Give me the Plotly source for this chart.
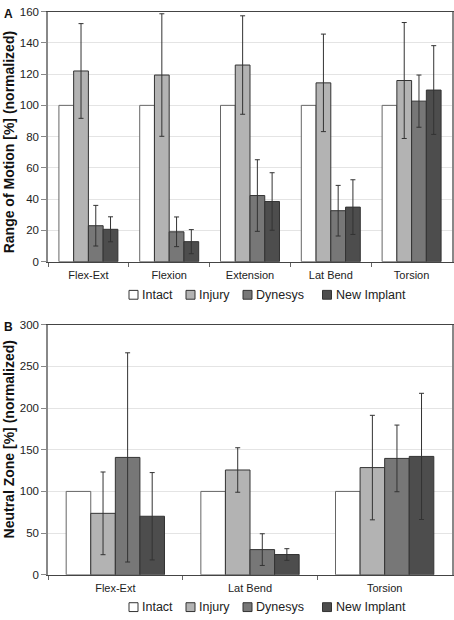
import plotly.graph_objects as go

W, H = 454, 620

series_names = ["Intact", "Injury", "Dynesys", "New Implant"]
series_colors = ["#ffffff", "#b3b3b3", "#777777", "#4d4d4d"]
outline_colors = ["#666666", "#333333", "#333333", "#333333"]

# Panel A: Range of Motion
cats_A = ["Flex-Ext", "Flexion", "Extension", "Lat Bend", "Torsion"]
intact_A = [100, 100, 100, 100, 100]
injury_A = [122.0, 119.4, 125.8, 114.4, 115.9]
injury_A_err = [30.3, 39.2, 31.5, 31.2, 37.1]
dynesys_A = [23.0, 19.1, 42.3, 32.6, 102.7]
dynesys_A_err = [13.0, 9.5, 22.9, 16.2, 16.7]
newimp_A = [20.7, 12.8, 38.5, 34.9, 109.8]
newimp_A_err = [8.0, 7.7, 18.4, 17.5, 28.4]

# Panel B: Neutral Zone
cats_B = ["Flex-Ext", "Lat Bend", "Torsion"]
intact_B = [100, 100, 100]
injury_B = [73.7, 125.7, 128.6]
injury_B_err = [49.6, 26.7, 62.7]
dynesys_B = [140.8, 30.2, 139.6]
dynesys_B_err = [125.5, 19.0, 40.0]
newimp_B = [70.2, 24.3, 142.0]
newimp_B_err = [52.4, 7.0, 75.7]

yticks_A = [0, 20, 40, 60, 80, 100, 120, 140, 160]
yticks_B = [0, 50, 100, 150, 200, 250, 300]

FONT = "Liberation Sans, Arial, sans-serif"

def px_x(p):
    return p / W

def px_y(p):
    return 1 - p / H

fig = go.Figure()

panelA = [(intact_A, None), (injury_A, injury_A_err), (dynesys_A, dynesys_A_err), (newimp_A, newimp_A_err)]
panelB = [(intact_B, None), (injury_B, injury_B_err), (dynesys_B, dynesys_B_err), (newimp_B, newimp_B_err)]

for panel, cats, xa, ya in [(panelA, cats_A, "x", "y"), (panelB, cats_B, "x2", "y2")]:
    for i, (vals, errs) in enumerate(panel):
        fig.add_trace(go.Bar(
            x=cats, y=vals, name=series_names[i], xaxis=xa, yaxis=ya,
            marker=dict(color=series_colors[i], line=dict(color=outline_colors[i], width=1)),
            error_y=(dict(type="data", array=errs, visible=True, color="#333333", thickness=1, width=2.5)
                     if errs is not None else dict(visible=False)),
            showlegend=False,
        ))

# plot areas (pixels)
A_left, A_right, A_top, A_bot = 48, 452, 5.7, 260.7
B_left, B_right, B_top, B_bot = 48, 452, 325, 580

axis_common = dict(showline=True, mirror=True, zeroline=False, fixedrange=True)

def xax(dom_l, dom_r, anchor):
    return dict(domain=[px_x(dom_l), px_x(dom_r)], anchor=anchor,
                linecolor="#444444", linewidth=1, ticks="outside", tickson="boundaries",
                ticklen=4, tickcolor="#666666", showgrid=False, ticklabelstandoff=3,
                tickfont=dict(size=11, color="#222222"), **axis_common)

def yax(top, bot, anchor, rng, tv):
    return dict(domain=[px_y(bot), px_y(top)], anchor=anchor, range=rng,
                tickvals=tv, linecolor="#888888", linewidth=1.5,
                ticks="outside", ticklen=5, tickcolor="#888888",
                showgrid=True, gridcolor="#e4e4e4", gridwidth=1,
                tickfont=dict(size=11.5, color="#222222"), **axis_common)

fig.update_layout(
    width=W, height=H,
    margin=dict(l=0, r=0, t=0, b=0),
    paper_bgcolor="white", plot_bgcolor="white",
    barmode="group", bargap=0.27, bargroupgap=0,
    showlegend=False,
    font=dict(family=FONT, color="#222222", size=11),
    xaxis=xax(A_left, A_right, "y"),
    yaxis=yax(A_top, A_bot, "x", [0, 160], yticks_A),
    xaxis2=xax(B_left, B_right, "y2"),
    yaxis2=yax(B_top, B_bot, "x2", [0, 300], yticks_B),
)

annotations = []
shapes = []

# panel letters
for letter, ly in [("A", 8.5), ("B", 327)]:
    annotations.append(dict(text="<b>%s</b>" % letter, x=px_x(2), y=px_y(ly), xref="paper", yref="paper",
                            xanchor="left", yanchor="middle", showarrow=False,
                            font=dict(size=12, family=FONT, color="#111111")))

# axis titles
for title, cy in [("Range of Motion [%] (normalized)", 139), ("Neutral Zone [%] (normalized)", 442)]:
    annotations.append(dict(text="<b>%s</b>" % title, x=px_x(9), y=px_y(cy),
                            xref="paper", yref="paper", xanchor="center", yanchor="middle",
                            textangle=-90, showarrow=False,
                            font=dict(size=14, family=FONT, color="#111111")))

# custom legends
legend_box_x = [129, 186, 243, 322.5]
for ly in [294.5, 613]:
    for i, name in enumerate(series_names):
        bx = legend_box_x[i]
        shapes.append(dict(type="rect", xref="paper", yref="paper",
                           x0=px_x(bx), x1=px_x(bx + 9), y0=px_y(ly + 4.5), y1=px_y(ly - 4.5),
                           fillcolor=series_colors[i], line=dict(color="#333333", width=1)))
        annotations.append(dict(text=name, x=px_x(bx + 11), y=px_y(ly), xref="paper", yref="paper",
                                xanchor="left", yanchor="middle", showarrow=False,
                                font=dict(size=12.5, family=FONT, color="#222222")))

fig.update_layout(annotations=annotations, shapes=shapes)

fig.write_html(
    "out.html",
    config={"responsive": False, "displayModeBar": False},
    post_script="document.body.style.margin='0';document.body.style.padding='0';"
                "document.body.style.overflow='hidden';document.documentElement.style.overflow='hidden';",
)
